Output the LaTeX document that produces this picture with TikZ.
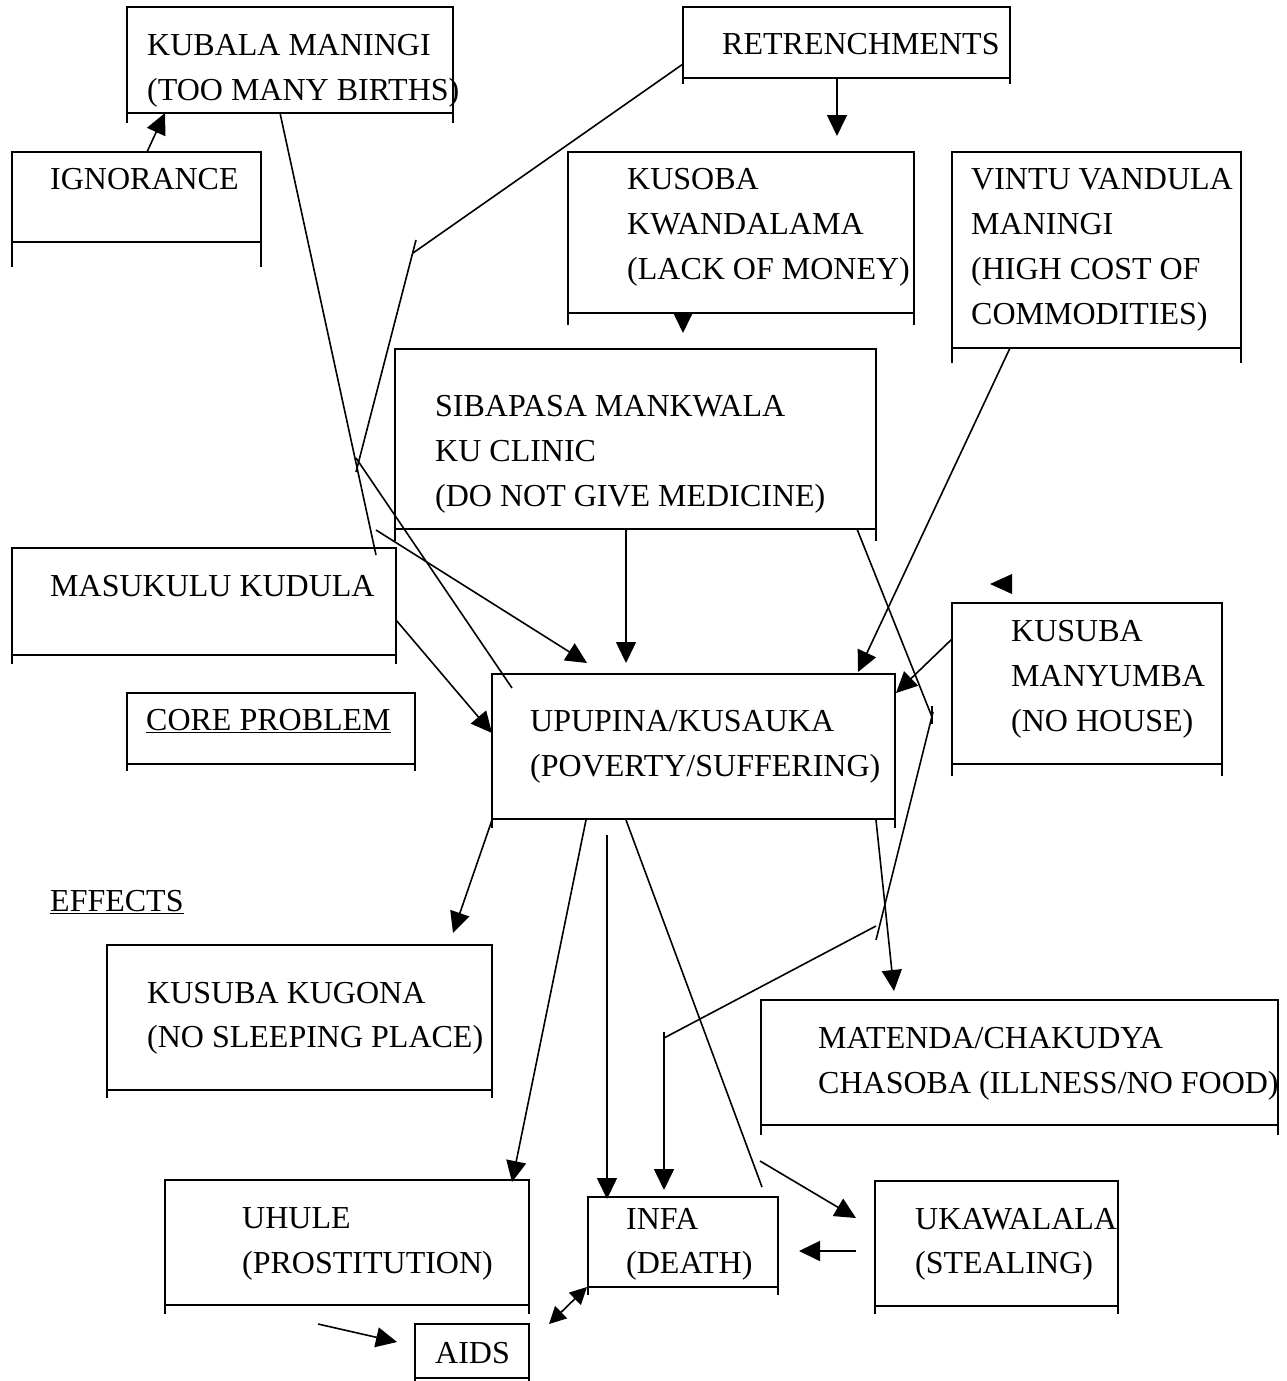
\documentclass[tikz,border=0pt]{standalone}
\usepackage{fontspec}
\setmainfont{Liberation Serif}
\usetikzlibrary{arrows.meta}
\tikzset{
  bx/.style={draw, line width=1.8pt, inner sep=0pt, outer sep=0pt, anchor=north west},
  bxl/.style={line width=1.8pt},
  txt/.style={anchor=base west, inner sep=0pt, font=\fontsize{32}{38}\selectfont},
  ln/.style={line width=1.6pt},
  ar/.style={line width=1.6pt, -{Triangle[length=21pt,width=20pt]}},
  dar/.style={line width=1.6pt, {Triangle[length=17pt,width=17pt]}-{Triangle[length=17pt,width=17pt]}},
}
\newcommand\mkbox[6]{%
  \node[bx, minimum width={#4pt-#2pt}, minimum height={#5pt-#3pt}] (#1) at (#2,#3) {};
  \draw[bxl] (#1.south west) -- ++(0,#6-#5) (#1.south east) -- ++(0,#6-#5);
}
\newcommand\tx[4]{\node[txt] (#1) at (#2,#3) {#4};}
\begin{document}
\begin{tikzpicture}[x=1pt,y=-1pt]
\useasboundingbox (0,0) rectangle (1287,1381);
% boxes
\mkbox{kubala}{127}{7}{453}{113}{123}
\mkbox{ignor}{12}{152}{261}{242}{267}
\mkbox{retr}{683}{7}{1010}{78}{84}
\mkbox{kusoba}{568}{152}{914}{313}{325}
\mkbox{vintu}{952}{152}{1241}{348}{363}
\mkbox{sibap}{395}{349}{876}{529}{541}
\mkbox{masuk}{12}{548}{396}{655}{664}
\mkbox{core}{127}{693}{415}{764}{771}
\mkbox{upup}{492}{674}{895}{819}{828}
\mkbox{manyu}{952}{603}{1222}{764}{776}
\mkbox{kugona}{107}{945}{492}{1090}{1098}
\mkbox{matenda}{761}{1000}{1278}{1125}{1135}
\mkbox{uhule}{165}{1180}{529}{1305}{1314}
\mkbox{aids}{415}{1324}{529}{1378}{1381}
\mkbox{infa}{588}{1197}{778}{1287}{1295}
\mkbox{ukaw}{875}{1181}{1118}{1306}{1314}
% texts
\tx{t1a}{147}{56}{KUBALA MANINGI}
\tx{t1b}{147}{100}{(TOO MANY BIRTHS)}
\tx{t2}{50}{189}{IGNORANCE}
\tx{t3}{722}{55}{RETRENCHMENTS}
\tx{t4a}{627}{189}{KUSOBA}
\tx{t4b}{627}{234}{KWANDALAMA}
\tx{t4c}{627}{279}{(LACK OF MONEY)}
\tx{t5a}{971}{189}{VINTU VANDULA}
\tx{t5b}{971}{234}{MANINGI}
\tx{t5c}{971}{279}{(HIGH COST OF}
\tx{t5d}{971}{324}{COMMODITIES)}
\tx{t6a}{435}{416}{SIBAPASA MANKWALA}
\tx{t6b}{435}{461}{KU CLINIC}
\tx{t6c}{435}{506}{(DO NOT GIVE MEDICINE)}
\tx{t7}{50}{596}{MASUKULU KUDULA}
\tx{t8}{146}{730}{\underline{CORE PROBLEM}}
\tx{t9a}{530}{731}{UPUPINA/KUSAUKA}
\tx{t9b}{530}{776}{(POVERTY/SUFFERING)}
\tx{t10a}{1011}{641}{KUSUBA}
\tx{t10b}{1011}{686}{MANYUMBA}
\tx{t10c}{1011}{731}{(NO HOUSE)}
\tx{teff}{50}{911}{\underline{EFFECTS}}
\tx{t11a}{147}{1003}{KUSUBA KUGONA}
\tx{t11b}{147}{1047}{(NO SLEEPING PLACE)}
\tx{t12a}{818}{1048}{MATENDA/CHAKUDYA}
\tx{t12b}{818}{1093}{CHASOBA (ILLNESS/NO FOOD)}
\tx{t13a}{242}{1228}{UHULE}
\tx{t13b}{242}{1273}{(PROSTITUTION)}
\tx{t14}{435}{1363}{AIDS}
\tx{t15a}{626}{1229}{INFA}
\tx{t15b}{626}{1273}{(DEATH)}
\tx{t16a}{915}{1229}{UKAWALALA}
\tx{t16b}{915}{1273}{(STEALING)}
% connector points
\coordinate (c1a) at (147,152);  \coordinate (c1b) at (165,113);
\coordinate (c2a) at (837,78);   \coordinate (c2b) at (837,136);
\coordinate (c3a) at (683,64);   \coordinate (c3b) at (413,253);
\coordinate (c3c) at (416,240);  \coordinate (c3d) at (356,472);
\coordinate (c3e) at (356,458);  \coordinate (c3f) at (512,688);
\coordinate (c4a) at (280,113);  \coordinate (c4b) at (376,555);
\coordinate (c5a) at (376,530);  \coordinate (c5b) at (587,663);
\coordinate (c6a) at (683,313);  \coordinate (c6b) at (683,333);
\coordinate (c7a) at (1010,348); \coordinate (c7b) at (858,672);
\coordinate (c8a) at (626,529);  \coordinate (c8b) at (626,663);
\coordinate (c9a) at (857,529);  \coordinate (c9b) at (932,717);
\coordinate (c9c) at (932,706);  \coordinate (c9d) at (932,724);
\coordinate (c9e) at (933,712);  \coordinate (c9f) at (876,940);
\coordinate (c9g) at (876,926);  \coordinate (c9h) at (664,1038);
\coordinate (c9i) at (664,1032); \coordinate (c9j) at (664,1190);
\coordinate (c10a) at (952,639); \coordinate (c10b) at (896,693);
\coordinate (c11a) at (396,620); \coordinate (c11b) at (492,733);
\coordinate (c12a) at (990,584); \coordinate (c12b) at (1012,574); \coordinate (c12c) at (1012,594);
\coordinate (c13a) at (492,820); \coordinate (c13b) at (453,933);
\coordinate (c14a) at (586,820); \coordinate (c14b) at (512,1182);
\coordinate (c15a) at (607,835); \coordinate (c15b) at (607,1199);
\coordinate (c16a) at (626,820); \coordinate (c16b) at (762,1187);
\coordinate (c17a) at (876,820); \coordinate (c17b) at (894,991);
\coordinate (c18a) at (760,1161);\coordinate (c18b) at (856,1218);
\coordinate (c19a) at (856,1251);\coordinate (c19b) at (799,1251);
\coordinate (c20a) at (318,1324);\coordinate (c20b) at (397,1342);
\coordinate (c21a) at (549,1324);\coordinate (c21b) at (587,1287);
% connectors
\draw[ar] (c1a) -- (c1b);
\draw[ar] (c2a) -- (c2b);
\draw[ln] (c3a) -- (c3b);
\draw[ln] (c3c) -- (c3d);
\draw[ln] (c3e) -- (c3f);
\draw[ln] (c4a) -- (c4b);
\draw[ar] (c5a) -- (c5b);
\draw[ar] (c6a) -- (c6b);
\draw[ar] (c7a) -- (c7b);
\draw[ar] (c8a) -- (c8b);
\draw[ln] (c9a) -- (c9b);
\draw[ln] (c9c) -- (c9d);
\draw[ln] (c9e) -- (c9f);
\draw[ln] (c9g) -- (c9h);
\draw[ar] (c9i) -- (c9j);
\draw[ar] (c10a) -- (c10b);
\draw[ar] (c11a) -- (c11b);
\fill (c12a) -- (c12b) -- (c12c) -- cycle;
\draw[ar] (c13a) -- (c13b);
\draw[ar] (c14a) -- (c14b);
\draw[ar] (c15a) -- (c15b);
\draw[ln] (c16a) -- (c16b);
\draw[ar] (c17a) -- (c17b);
\draw[ar] (c18a) -- (c18b);
\draw[ar] (c19a) -- (c19b);
\draw[ar] (c20a) -- (c20b);
\draw[dar] (c21a) -- (c21b);
\end{tikzpicture}
\end{document}
